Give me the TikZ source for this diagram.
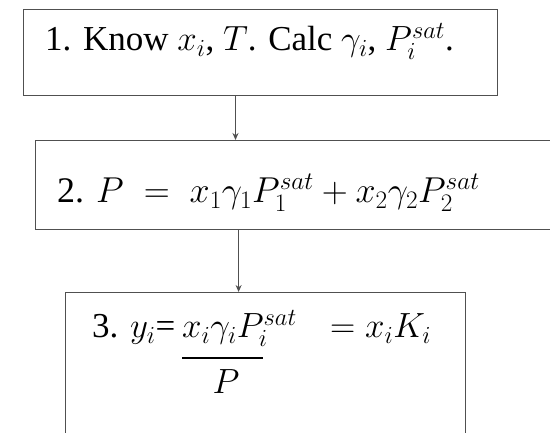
\RequirePackage{fix-cm}
\documentclass[tikz,border=0pt]{standalone}
\usepackage{fontspec}
\setmainfont{Liberation Serif}
\newfontfamily\stepfont{Liberation Serif}
\usetikzlibrary{arrows.meta,positioning,calc}
\definecolor{boxgray}{RGB}{80,80,80}
\tikzset{
  stepbox/.style={draw=boxgray, line width=1.4pt, rectangle, inner sep=0pt, anchor=north west},
  steptext/.style={anchor=base west, inner sep=0pt, font=\stepfont\fontsize{35}{40}\selectfont},
  flow/.style={draw=boxgray, line width=1pt, -{Stealth[length=7pt,width=6pt]}}
}
\begin{document}
\begin{tikzpicture}[x=1pt,y=1pt]
  \useasboundingbox (0,0) rectangle (550,432);
  \clip (0,0) rectangle (550,432);

  % Boxes
  \node[stepbox, minimum width=474pt, minimum height=86pt] (step1) at (23,423) {};
  \node[stepbox, minimum width=530pt, minimum height=89pt] (step2) at (35,292) {};
  \node[stepbox, minimum width=400pt, minimum height=142pt] (step3) at (65,140) {};

  % Step texts
  \node[steptext] (t1) at (45,381) {1. Know $x_i$, $T$. Calc $\gamma_i$, $P_i^{sat}$.};
  \node[steptext, font=\stepfont\fontsize{36}{42}\selectfont] (t2) at (57,229) {2. $P\;=\;x_1\gamma_1P_1^{sat}+x_2\gamma_2P_2^{sat}$};
  \node[steptext] (t3) at (92,94) {3. $y_i$=};
  \node[steptext] (num) at (182,94) {$x_i\gamma_iP_i^{sat}$};
  \node[steptext] (rhs) at (330,94) {$=x_iK_i$};
  \node[steptext, anchor=base] (den) at (226,38) {$P$};
  \draw[line width=1.2pt] (182,74) -- (263,74);

  % Arrows
  \coordinate (a1) at ($(step1.south west)!0.447!(step1.south east)$);
  \draw[flow] (a1) -- (a1 |- step2.north);
  \coordinate (a2) at ($(step3.north west)!0.4325!(step3.north east)$);
  \draw[flow] (a2 |- step2.south) -- (a2);
\end{tikzpicture}
\end{document}
